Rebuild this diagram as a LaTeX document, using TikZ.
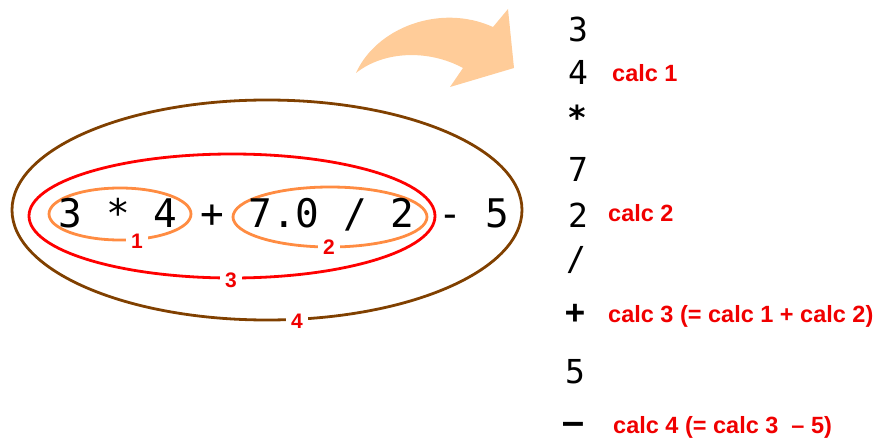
\documentclass[tikz,border=0pt]{standalone}
\usepackage{fontspec}
\setmainfont{Liberation Sans}
\newfontfamily\monofont{DejaVu Sans Mono}
\definecolor{ellorange}{RGB}{255,140,66}
\definecolor{ellred}{RGB}{255,0,0}
\definecolor{ellbrown}{RGB}{128,64,0}
\definecolor{lblred}{RGB}{240,0,0}
\definecolor{arrowpeach}{RGB}{255,204,153}
\begin{document}
\begin{tikzpicture}[x=1pt,y=-1pt,
  expr/.style={font=\monofont\fontsize{39.4}{40}\selectfont, inner sep=0pt, anchor=base},
  stackch/.style={font=\monofont\fontsize{33}{34}\selectfont, inner sep=0pt},
  stackop/.style={font=\monofont\bfseries\fontsize{33}{34}\selectfont, inner sep=0pt},
  calclbl/.style={font=\bfseries\fontsize{23.5}{24}\selectfont, text=lblred, inner sep=0pt, anchor=base west},
  numlbl/.style={font=\bfseries\fontsize{21}{21}\selectfont, text=lblred, fill=white, inner xsep=5pt, inner ysep=0pt},
  ell/.style={line width=2.8pt}
]
\useasboundingbox (0,0) rectangle (879,441);
% curved arrow
\fill[arrowpeach] (356,73) .. controls (376,28) and (440,3) .. (493,27)
  -- (508,9) -- (514,68) -- (450,87) -- (463,68)
  .. controls (430,50) and (385,50) .. (356,73) -- cycle;
% ellipses
\coordinate (e4) at (267,210);
\coordinate (e3) at (232,216);
\coordinate (e1) at (120,214);
\coordinate (e2) at (330,217);
\draw[ell, ellbrown] (e4) ellipse [x radius=255, y radius=110];
\draw[ell, ellred] (e3) ellipse [x radius=203, y radius=62];
\draw[ell, ellorange] (e1) ellipse [x radius=71, y radius=26];
\draw[ell, ellorange] (e2) ellipse [x radius=97, y radius=30];
% expression
\node[expr] (expr) at (284,227) {3 * 4 + 7.0 / 2 - 5};
% ellipse labels
\node[numlbl] (l1) at (137,241) {1};
\node[numlbl] (l2) at (329,247) {2};
\node[numlbl] (l3) at (231,280) {3};
\node[numlbl] (l4) at (297,321) {4};
% stack column
\node[stackch, anchor=base] (s3) at (578,42) {3};
\node[stackch, anchor=base] (s4) at (578,85) {4};
\node[stackop] (smul) at (577,117) {*};
\node[stackch, anchor=base] (s7) at (578,182) {7};
\node[stackch, anchor=base] (s2) at (578,227) {2};
\node[stackch] (sdiv) at (576,260) {/};
\node[stackop] (splus) at (575,314) {+};
\node[stackch, anchor=base] (s5) at (575,383) {5};
\node[stackop] (sminus) at (573,428) {–};
% calc labels
\node[calclbl] (c1) at (612,82) {calc 1};
\node[calclbl] (c2) at (608,222) {calc 2};
\node[calclbl] (c3) at (608,322) {calc 3 (= calc 1 + calc 2)};
\node[calclbl] (c4) at (613,433) {calc 4 (= calc 3~~– 5)};
\end{tikzpicture}
\end{document}
